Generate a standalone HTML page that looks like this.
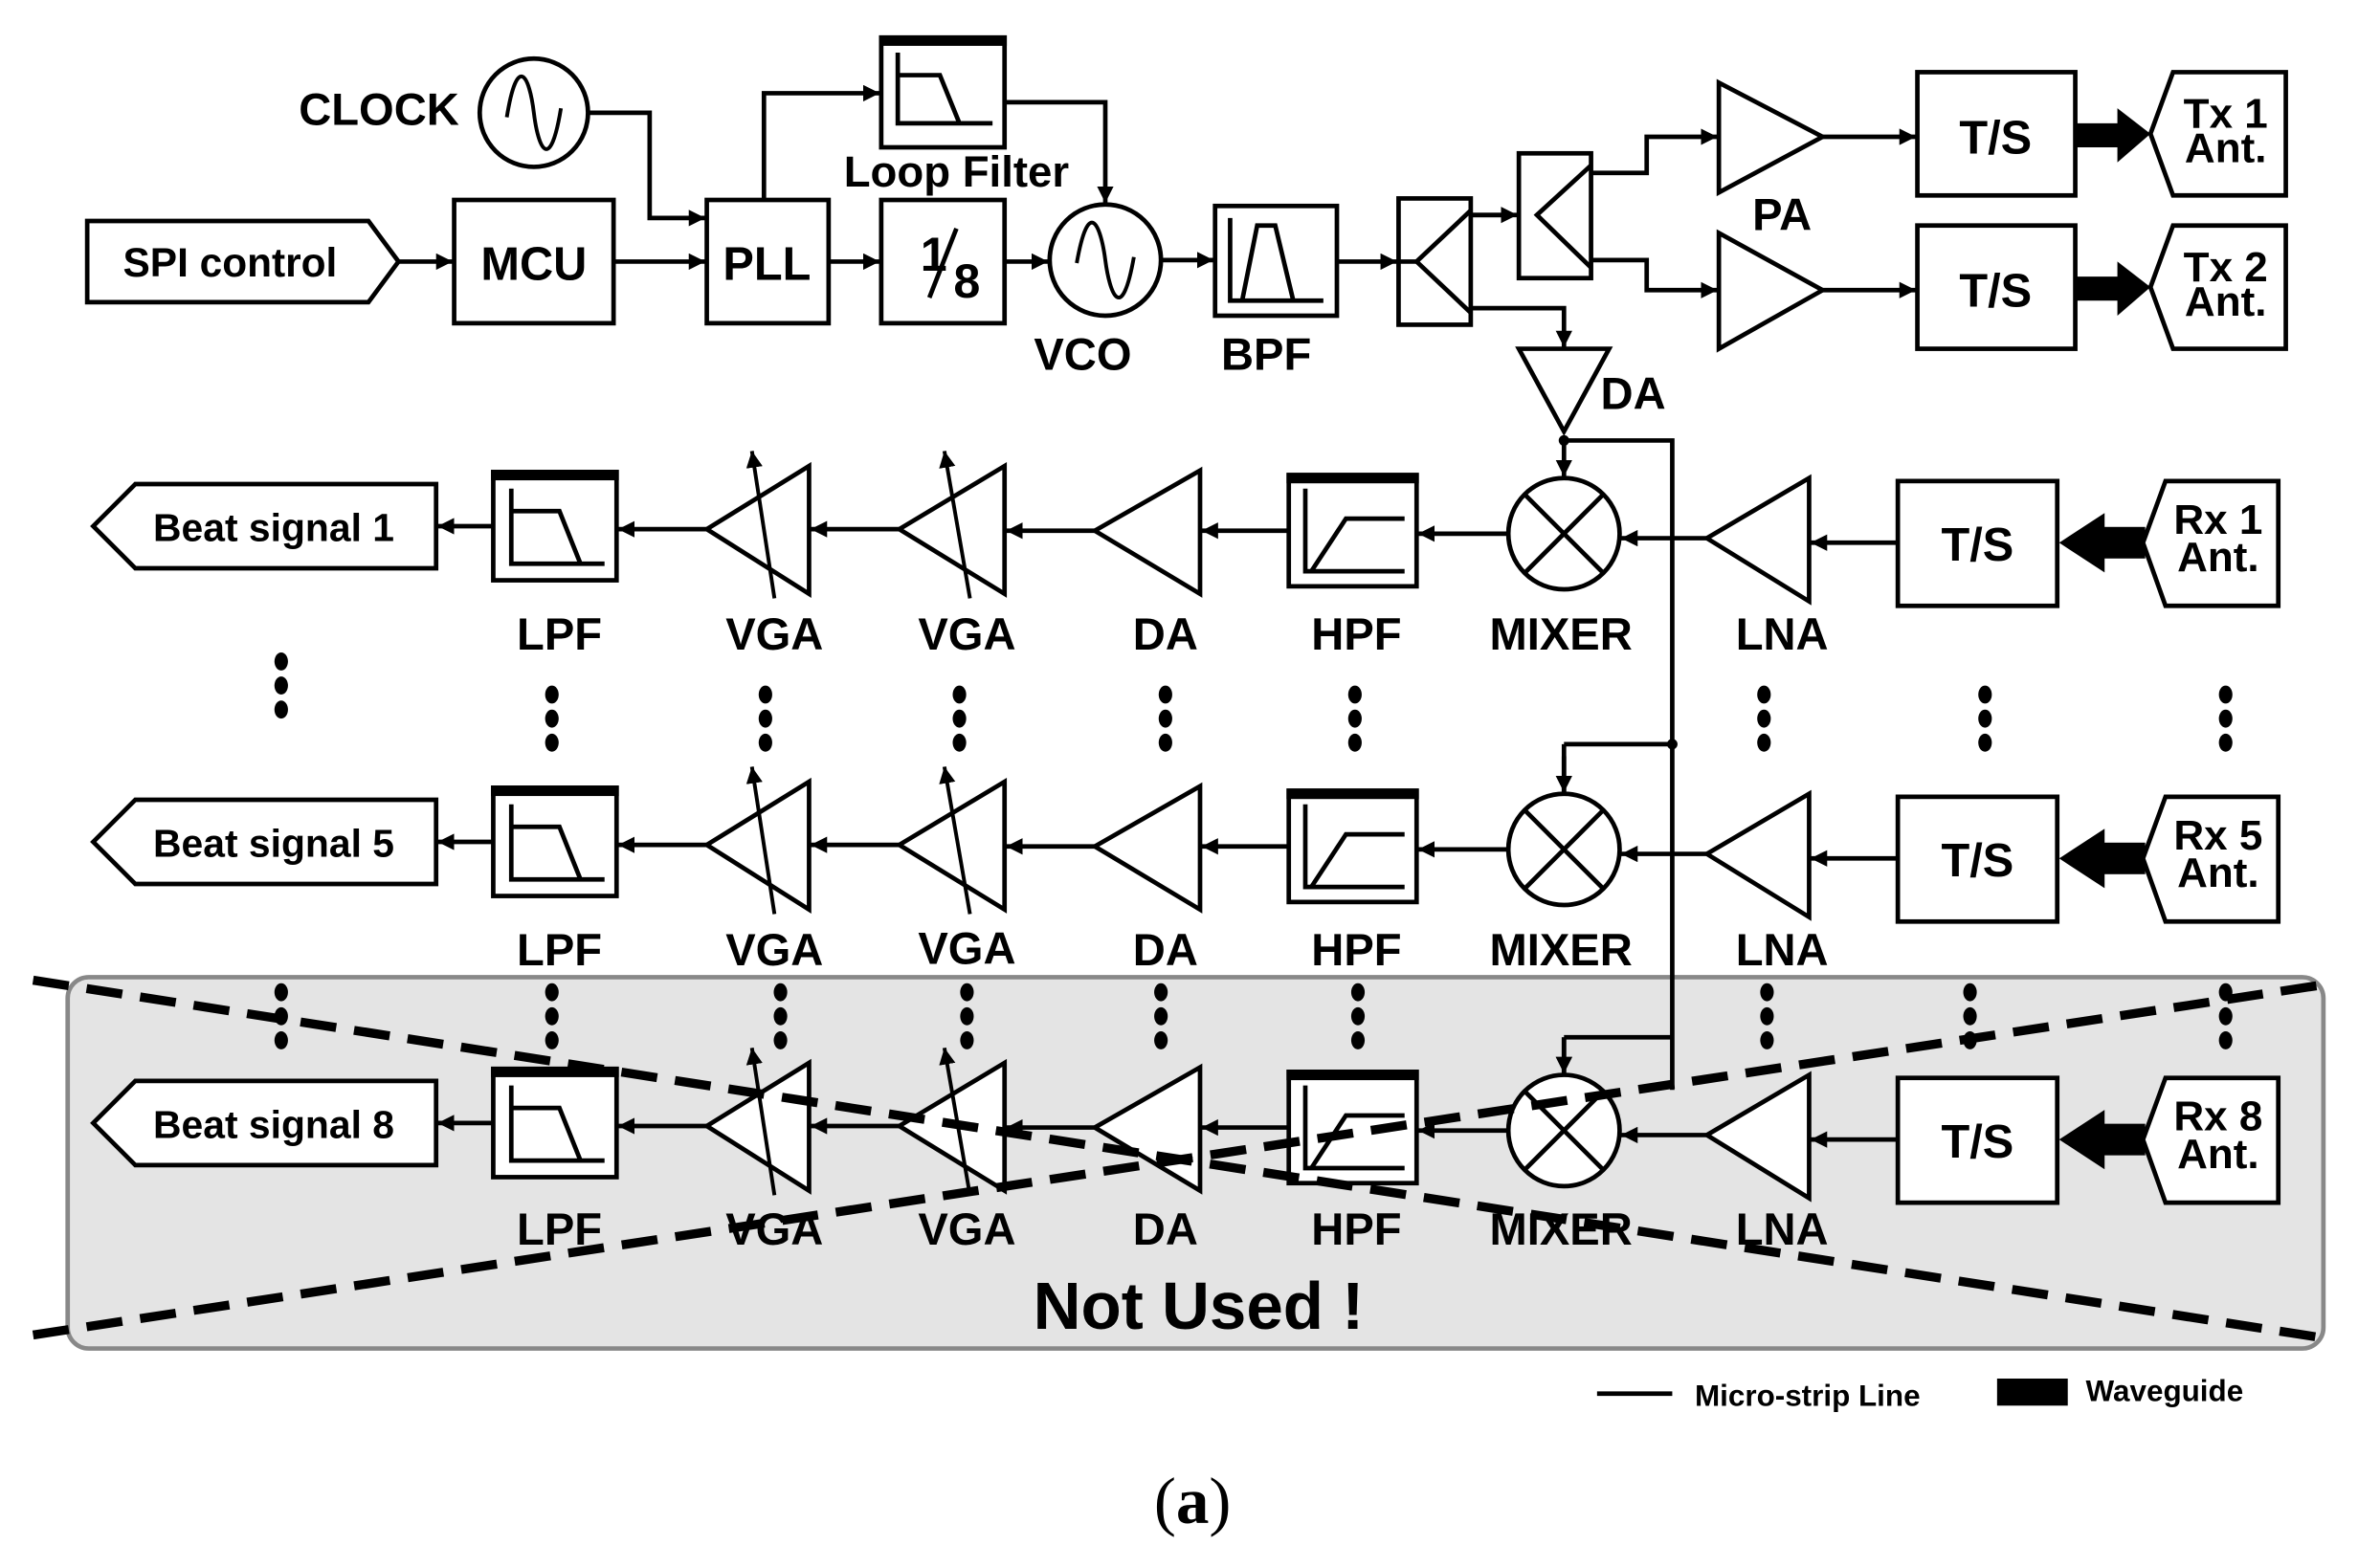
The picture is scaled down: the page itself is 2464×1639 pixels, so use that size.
<!DOCTYPE html>
<html><head><meta charset="utf-8"><style>
html,body{margin:0;padding:0;background:#fff;}
svg{display:block;}
text{font-family:"Liberation Sans",sans-serif;font-weight:bold;fill:#000;}
</style></head><body>
<svg width="2464" height="1639" viewBox="0 0 1568 1043" xmlns="http://www.w3.org/2000/svg">
<defs>
<marker id="a" viewBox="0 0 10 10" refX="10" refY="5" markerWidth="11" markerHeight="11" markerUnits="userSpaceOnUse" orient="auto"><path d="M0,0 L10,5 L0,10 z" fill="#000"/></marker>
<g id="row" fill="#fff" stroke="#000" stroke-width="3">
<polygon points="90,322 290,322 290,378 90,378 62,350"/>
<line x1="328" y1="350" x2="291" y2="350" marker-end="url(#a)"/>
<rect x="328" y="314" width="82" height="72"/>
<rect x="328" y="314" width="82" height="4" fill="#000"/>
<polyline points="340,325 340,375 402,375" fill="none"/>
<polyline points="340,340 372,340 386,375" fill="none"/>
<line x1="470" y1="352" x2="411" y2="352" marker-end="url(#a)"/>
<polygon points="470,352 538,310 538,395"/>
<line x1="515" y1="398" x2="500" y2="300" stroke-width="2.5" marker-end="url(#a)"/>
<line x1="598" y1="352" x2="539" y2="352" marker-end="url(#a)"/>
<polygon points="598,352 668,310 668,395"/>
<line x1="645" y1="398" x2="628" y2="300" stroke-width="2.5" marker-end="url(#a)"/>
<line x1="728" y1="353" x2="669" y2="353" marker-end="url(#a)"/>
<polygon points="728,353 798,313 798,395"/>
<line x1="857" y1="353" x2="799" y2="353" marker-end="url(#a)"/>
<rect x="857" y="316" width="85" height="74"/>
<rect x="857" y="316" width="85" height="4" fill="#000"/>
<polyline points="868,325 868,380 934,380" fill="none"/>
<polyline points="872,380 895,345 934,345" fill="none"/>
<line x1="1003" y1="355" x2="943" y2="355" marker-end="url(#a)"/>
<circle cx="1040" cy="355" r="37"/>
<line x1="1014" y1="329" x2="1066" y2="381"/><line x1="1066" y1="329" x2="1014" y2="381"/>
<line x1="1135" y1="358" x2="1078" y2="358" marker-end="url(#a)"/>
<polygon points="1135,358 1203,318 1203,400"/>
<line x1="1262" y1="361" x2="1204" y2="361" marker-end="url(#a)"/>
<rect x="1262" y="320" width="106" height="83"/>
<rect x="1395" y="352" width="30" height="18" fill="#000"/>
<polygon points="1372,361 1398,344 1398,378" fill="#000"/>
<polygon points="1440,320 1515,320 1515,403 1440,403 1425,361"/>
<line x1="1040" y1="293" x2="1040" y2="317" marker-end="url(#a)"/>
</g>
<g id="dots" fill="#000"><ellipse cx="0" cy="0" rx="4.5" ry="6"/><ellipse cx="0" cy="16" rx="4.5" ry="6"/><ellipse cx="0" cy="32" rx="4.5" ry="6"/></g>
</defs>

<!-- grey box -->
<rect x="45" y="650" width="1500" height="247" rx="14" fill="#e4e4e4" stroke="#888" stroke-width="3"/>

<!-- TOP TX CHAIN -->
<g fill="#fff" stroke="#000" stroke-width="3">
<polygon points="58,147 245,147 265,174 245,201 58,201"/>
<line x1="265" y1="174" x2="301" y2="174" marker-end="url(#a)"/>
<rect x="302" y="133" width="106" height="82"/>
<line x1="408" y1="174" x2="469" y2="174" marker-end="url(#a)"/>
<rect x="470" y="133" width="81" height="82"/>
<line x1="551" y1="174" x2="585" y2="174" marker-end="url(#a)"/>
<rect x="586" y="133" width="82" height="82"/>
<line x1="668" y1="174" x2="697" y2="174" marker-end="url(#a)"/>
<circle cx="735" cy="173" r="37"/>
<path d="M716,175 C724,130 732,150 735,173 C738,196 746,216 754,171" fill="none" stroke-width="2.5"/>
<line x1="772" y1="173" x2="807" y2="173" marker-end="url(#a)"/>
<rect x="808" y="137" width="81" height="73"/>
<polyline points="818,145 818,200 880,200" fill="none"/>
<polyline points="826,200 836,150 848,150 860,200" fill="none"/>
<line x1="889" y1="174" x2="929" y2="174" marker-end="url(#a)"/>
<rect x="930" y="132" width="48" height="84"/>
<polyline points="978,140 942,174 978,208" fill="none"/>
<line x1="930" y1="174" x2="942" y2="174"/>
<polyline points="978,143 1000,143" fill="none"/>
<line x1="978" y1="143" x2="1009" y2="143" marker-end="url(#a)"/>
<rect x="1010" y="102" width="48" height="83"/>
<polyline points="1058,110 1022,143 1058,178" fill="none"/>
<polyline points="1058,115 1095,115 1095,91 1142,91" fill="none" marker-end="url(#a)"/>
<polyline points="1058,173 1095,173 1095,193 1142,193" fill="none" marker-end="url(#a)"/>
<polygon points="1143,55 1212,91 1143,128"/>
<polygon points="1143,155 1212,193 1143,232"/>
<line x1="1212" y1="91" x2="1274" y2="91" marker-end="url(#a)"/>
<line x1="1212" y1="193" x2="1274" y2="193" marker-end="url(#a)"/>
<rect x="1275" y="48" width="105" height="82"/>
<rect x="1275" y="150" width="105" height="82"/>
<polygon points="1445,48 1520,48 1520,130 1445,130 1430,89"/>
<polygon points="1445,150 1520,150 1520,232 1445,232 1430,191"/>
<!-- clock -->
<circle cx="355" cy="75" r="36"/>
<path d="M337,78 C344,35 352,50 355,75 C358,100 366,115 373,72" fill="none" stroke-width="2.5"/>
<polyline points="391,75 432,75 432,145 469,145" fill="none" marker-end="url(#a)"/>
<!-- loop filter -->
<polyline points="508,133 508,62 585,62" fill="none" marker-end="url(#a)"/>
<rect x="586" y="25" width="82" height="73"/>
<rect x="586" y="25" width="82" height="4" fill="#000"/>
<polyline points="597,35 597,82 660,82" fill="none"/>
<polyline points="597,50 625,50 638,82" fill="none"/>
<polyline points="668,68 735,68 735,135" fill="none" marker-end="url(#a)"/>
<!-- DA -->
<polyline points="978,205 1040,205 1040,231" fill="none" marker-end="url(#a)"/>
<polygon points="1010,232 1070,232 1040,287"/>
<polyline points="1040,293 1112,293 1112,725" fill="none"/>
<polyline points="1112,495 1040,495" fill="none"/>
<polyline points="1112,690 1040,690" fill="none"/>
</g>
<polygon points="1380,82 1408,82 1408,72 1430,89 1408,108 1408,98 1380,98" fill="#000"/>
<polygon points="1380,184 1408,184 1408,174 1430,191 1408,210 1408,200 1380,200" fill="#000"/>
<circle cx="1040" cy="293" r="3.5" fill="#000"/>
<circle cx="1112" cy="495" r="3.5" fill="#000"/>

<!-- RX rows -->
<use href="#row"/>
<use href="#row" transform="translate(0,210)"/>
<use href="#row" transform="translate(0,397)"/>
<line x1="1040" y1="495" x2="1040" y2="527" stroke="#000" stroke-width="3" marker-end="url(#a)"/>
<line x1="1040" y1="690" x2="1040" y2="714" stroke="#000" stroke-width="3" marker-end="url(#a)"/>

<!-- top texts -->
<text x="252" y="83" font-size="30" text-anchor="middle">CLOCK</text>
<text x="153" y="184" font-size="27" text-anchor="middle">SPI control</text>
<text x="355" y="186" font-size="31" text-anchor="middle">MCU</text>
<text x="510" y="186" font-size="31" text-anchor="middle">PLL</text>
<text x="612" y="180" font-size="32">1</text>
<line x1="618" y1="198" x2="636" y2="152" stroke="#000" stroke-width="3"/>
<text x="643" y="198" font-size="32" text-anchor="middle">8</text>
<text x="636" y="124" font-size="29" text-anchor="middle">Loop Filter</text>
<text x="720" y="246" font-size="30" text-anchor="middle">VCO</text>
<text x="842" y="246" font-size="30" text-anchor="middle">BPF</text>
<text x="1185" y="153" font-size="30" text-anchor="middle">PA</text>
<text x="1086" y="272" font-size="30" text-anchor="middle">DA</text>
<text x="1327" y="102" font-size="31" text-anchor="middle">T/S</text>
<text x="1327" y="204" font-size="31" text-anchor="middle">T/S</text>
<text x="1480" y="85" font-size="28" text-anchor="middle">Tx 1</text>
<text x="1480" y="108" font-size="28" text-anchor="middle">Ant.</text>
<text x="1480" y="187" font-size="28" text-anchor="middle">Tx 2</text>
<text x="1480" y="210" font-size="28" text-anchor="middle">Ant.</text>

<!-- row texts -->
<g font-size="30" text-anchor="middle">
<text x="372" y="432">LPF</text><text x="515" y="432">VGA</text><text x="643" y="432">VGA</text><text x="775" y="432">DA</text><text x="902" y="432">HPF</text><text x="1038" y="432">MIXER</text><text x="1185" y="432">LNA</text>
<text x="372" y="642">LPF</text><text x="515" y="642">VGA</text><text x="643" y="641">VGA</text><text x="775" y="642">DA</text><text x="902" y="642">HPF</text><text x="1038" y="642">MIXER</text><text x="1185" y="642">LNA</text>
<text x="372" y="828">LPF</text><text x="515" y="828">VGA</text><text x="643" y="828">VGA</text><text x="775" y="828">DA</text><text x="902" y="828">HPF</text><text x="1038" y="828">MIXER</text><text x="1185" y="828">LNA</text>
</g>
<g font-size="26" text-anchor="middle">
<text x="182" y="360">Beat signal 1</text>
<text x="182" y="570">Beat signal 5</text>
<text x="182" y="757">Beat signal 8</text>
</g>
<g font-size="31" text-anchor="middle">
<text x="1315" y="373">T/S</text><text x="1315" y="583">T/S</text><text x="1315" y="770">T/S</text>
</g>
<g font-size="28" text-anchor="middle">
<text x="1475" y="355">Rx 1</text><text x="1475" y="380">Ant.</text>
<text x="1475" y="565">Rx 5</text><text x="1475" y="590">Ant.</text>
<text x="1475" y="752">Rx 8</text><text x="1475" y="777">Ant.</text>
</g>

<!-- dots -->
<use href="#dots" transform="translate(187,440)"/>
<g>
<use href="#dots" transform="translate(367,462)"/><use href="#dots" transform="translate(509,462)"/><use href="#dots" transform="translate(638,462)"/><use href="#dots" transform="translate(775,462)"/><use href="#dots" transform="translate(901,462)"/><use href="#dots" transform="translate(1173,462)"/><use href="#dots" transform="translate(1320,462)"/><use href="#dots" transform="translate(1480,462)"/>
<use href="#dots" transform="translate(187,660)"/><use href="#dots" transform="translate(367,660)"/><use href="#dots" transform="translate(519,660)"/><use href="#dots" transform="translate(643,660)"/><use href="#dots" transform="translate(772,660)"/><use href="#dots" transform="translate(903,660)"/><use href="#dots" transform="translate(1175,660)"/><use href="#dots" transform="translate(1310,660)"/><use href="#dots" transform="translate(1480,660)"/>
</g>

<!-- dashed X -->
<line x1="22" y1="652" x2="1545" y2="890" stroke="#000" stroke-width="6" stroke-dasharray="24 12"/>
<line x1="22" y1="888" x2="1545" y2="655" stroke="#000" stroke-width="6" stroke-dasharray="24 12"/>
<text x="797" y="884" font-size="44" font-weight="normal" text-anchor="middle" style="font-weight:bold">Not Used !</text>

<!-- legend -->
<line x1="1062" y1="927" x2="1112" y2="927" stroke="#000" stroke-width="3"/>
<text x="1127" y="935" font-size="20">Micro-strip Line</text>
<rect x="1328" y="917" width="47" height="18" fill="#000"/>
<text x="1387" y="932" font-size="20">Waveguide</text>

<text x="793" y="1013" font-size="44" text-anchor="middle" style="font-family:'Liberation Serif',serif;font-weight:normal">(<tspan font-weight="bold">a</tspan>)</text>
</svg>
</body></html>
